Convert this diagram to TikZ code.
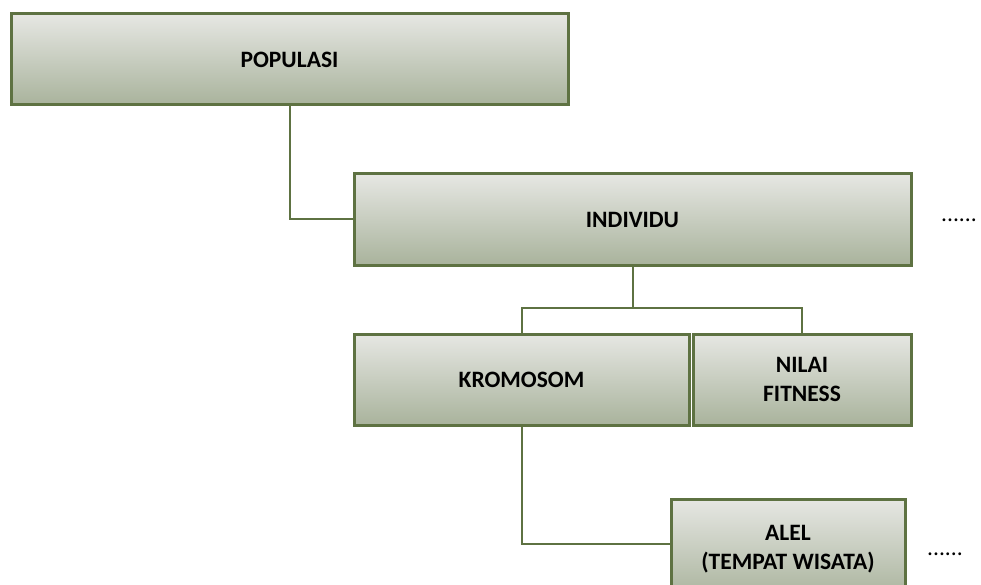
\documentclass[tikz,border=0pt]{standalone}
\usepackage{fontspec}
\setmainfont{Carlito}
\definecolor{boxline}{HTML}{5E7242}
\definecolor{boxtop}{HTML}{E6E7E3}
\definecolor{boxbot}{HTML}{A9B39C}
\tikzset{
  box/.style={draw=boxline, line width=3pt, top color=boxtop, bottom color=boxbot,
    font=\bfseries\fontsize{23.5}{29}\selectfont, align=center, inner sep=0pt,
    minimum height=91pt},
  conn/.style={draw=boxline, line width=2pt},
  moredots/.style={font=\fontsize{23.5}{27}\selectfont, inner sep=0pt, anchor=base west}
}
\begin{document}
\begin{tikzpicture}[x=1pt, y=-1pt]
  \useasboundingbox (0,0) rectangle (981,585);
  \clip (0,0) rectangle (981,585);
  % the hierarchy boxes
  \node[box, minimum width=557pt] (pop) at (289.5,59.5) {POPULASI};
  \node[box, minimum width=557pt] (ind) at (632.5,219.5) {INDIVIDU};
  \node[box, minimum width=335pt] (krom) at (521.5,379.5) {KROMOSOM};
  \node[box, minimum width=218pt] (nil) at (802,379.5) {NILAI\\FITNESS};
  \node[box, minimum width=234pt, minimum height=100pt] (alel) at (788,549) {ALEL\\(TEMPAT WISATA)};
  % elbow connectors between levels
  \coordinate (bus) at (632.5,308);
  \draw[conn] (pop.south) |- (ind.west);
  \draw[conn] (ind.south) -- (bus);
  \draw[conn] (krom.north) |- (bus) -| (nil.north);
  \draw[conn] (krom.south) |- ([yshift=5pt]alel.west);
  % continuation marks
  \node[moredots] (more1) at (941,222) {......};
  \node[moredots] (more2) at (927,555) {......};
\end{tikzpicture}
\end{document}
